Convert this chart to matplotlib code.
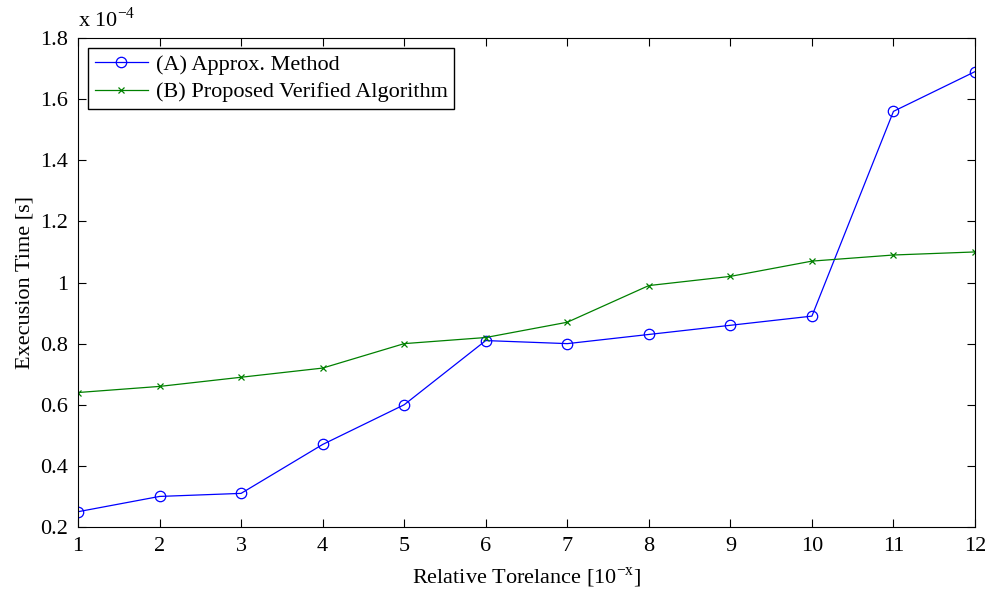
import numpy as np
import matplotlib.pyplot as plt
from matplotlib.ticker import FuncFormatter

# relative tolerance exponent
tolerance = [1, 2, 3, 4, 5, 6, 7, 8, 9, 10, 11, 12]
# execution time, in units of 1e-4 s
approxTime = [0.25, 0.30, 0.31, 0.47, 0.60, 0.81, 0.80, 0.83, 0.86, 0.89, 1.56, 1.69]
verifiedTime = [0.64, 0.66, 0.69, 0.72, 0.80, 0.82, 0.87, 0.99, 1.02, 1.07, 1.09, 1.10]

plt.rcParams['font.family'] = ['Liberation Serif', 'DejaVu Serif']
plt.rcParams['mathtext.fontset'] = 'custom'
plt.rcParams['mathtext.rm'] = 'Liberation Serif'
plt.rcParams['font.size'] = 16

fig = plt.figure(figsize=(10, 5.94), dpi=100)
ax = fig.add_axes([0.078, 0.1128, 0.897, 0.8232])

ax.plot(tolerance, approxTime, color="#0000ff", lw=0.9, marker="o", ms=7.5,
        mfc="none", mew=0.9, label="(A) Approx. Method")
ax.plot(tolerance, verifiedTime, color="#008000", lw=0.9, marker="x", ms=5,
        mew=0.9, label="(B) Proposed Verified Algorithm")

ax.set_xlim(1, 12)
ax.set_ylim(0.2, 1.8)
ax.set_xticks(tolerance)
ax.set_yticks(np.arange(0.2, 1.81, 0.2))
ax.yaxis.set_major_formatter(FuncFormatter(lambda v, p: "%g" % round(v, 2)))
ax.tick_params(direction="in", top=True, right=True, length=6, width=0.8, pad=7)
for s in ax.spines.values():
    s.set_linewidth(0.8)

ax.set_xlabel(r"Relative Torelance [10$^{-\mathrm{x}}$]", labelpad=7)
ax.set_ylabel("Execusion Time [s]", labelpad=4)
ax.text(0.0, 1.012, r"x 10$^{-4}$", transform=ax.transAxes, ha="left", va="bottom")

leg = ax.legend(loc="upper left", fancybox=False, framealpha=1, edgecolor="black",
                borderaxespad=0.45, handlelength=2.4, handletextpad=0.35,
                borderpad=0.3, labelspacing=0.3)
leg.get_frame().set_linewidth(1.0)

fig.savefig("out.png")
